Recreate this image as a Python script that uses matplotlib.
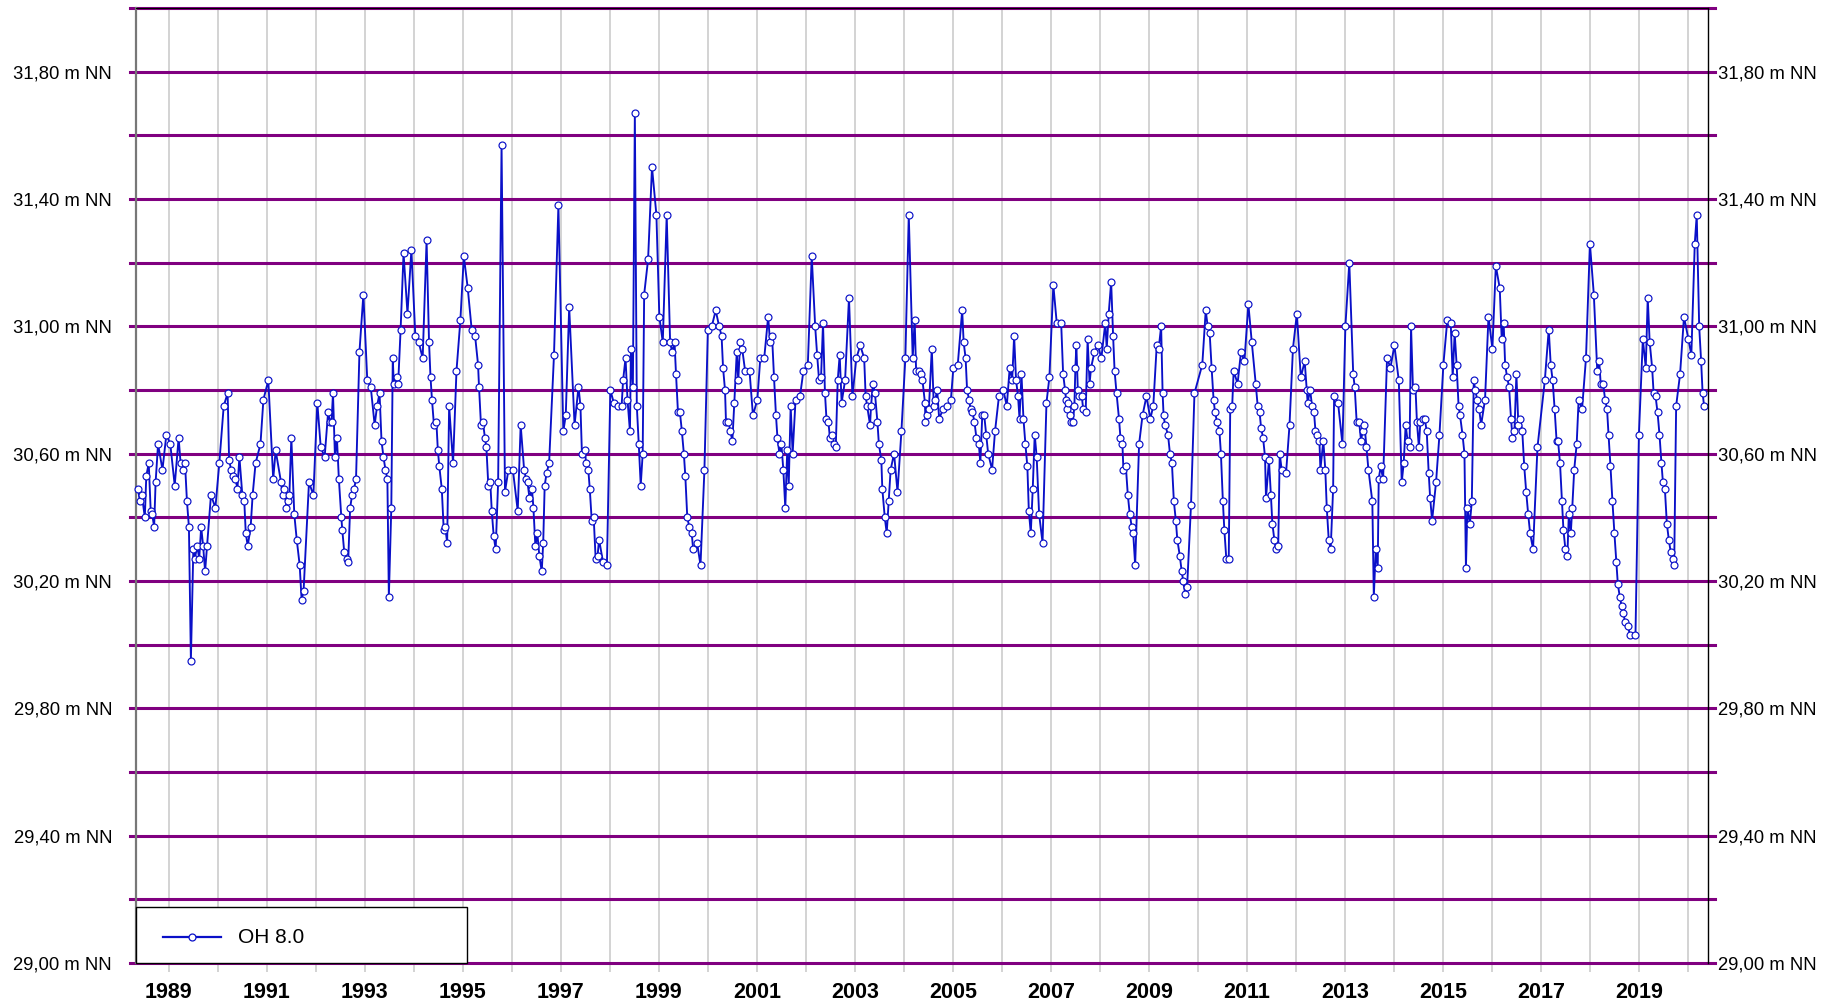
import numpy as np
import matplotlib
matplotlib.use("Agg")
import matplotlib.pyplot as plt
from matplotlib.patches import Rectangle
from matplotlib.lines import Line2D

plt.rcParams['font.family'] = ['Liberation Sans', 'DejaVu Sans']

# ---------------- data (decimal year, water level in m NN) ----------------
series_name = "OH 8.0"

dates = [
    1988.37, 1988.41, 1988.45, 1988.51, 1988.54, 1988.59, 1988.63, 1988.66, 1988.70, 1988.73, 1988.78, 1988.87, 1988.95,
    1989.03, 1989.12, 1989.20, 1989.24, 1989.29, 1989.33, 1989.37, 1989.41, 1989.45, 1989.50, 1989.53, 1989.58, 1989.62, 1989.66, 1989.70, 1989.74, 1989.78, 1989.86, 1989.95,
    1990.03, 1990.12, 1990.20, 1990.23, 1990.27, 1990.31, 1990.36, 1990.40, 1990.44, 1990.50, 1990.54, 1990.57, 1990.61, 1990.67, 1990.71, 1990.77, 1990.87, 1990.93,
    1991.03, 1991.13, 1991.18, 1991.29, 1991.32, 1991.36, 1991.40, 1991.44, 1991.46, 1991.50, 1991.56, 1991.61, 1991.67, 1991.71, 1991.75, 1991.86, 1991.95,
    1992.03, 1992.10, 1992.18, 1992.25, 1992.29, 1992.32, 1992.35, 1992.39, 1992.43, 1992.47, 1992.52, 1992.54, 1992.58, 1992.63, 1992.66, 1992.70, 1992.74, 1992.78, 1992.82, 1992.89, 1992.97,
    1993.05, 1993.12, 1993.20, 1993.25, 1993.30, 1993.34, 1993.38, 1993.42, 1993.46, 1993.49, 1993.54, 1993.57, 1993.59, 1993.65, 1993.68, 1993.73, 1993.79, 1993.87, 1993.95,
    1994.03, 1994.10, 1994.18, 1994.26, 1994.31, 1994.34, 1994.37, 1994.41, 1994.46, 1994.49, 1994.52, 1994.57, 1994.61, 1994.64, 1994.68, 1994.72, 1994.80, 1994.87, 1994.95,
    1995.02, 1995.10, 1995.18, 1995.25, 1995.31, 1995.33, 1995.37, 1995.41, 1995.45, 1995.48, 1995.52, 1995.56, 1995.59, 1995.63, 1995.67, 1995.72, 1995.79, 1995.86, 1995.93,
    1996.02, 1996.12, 1996.18, 1996.25, 1996.29, 1996.32, 1996.36, 1996.41, 1996.44, 1996.48, 1996.52, 1996.56, 1996.61, 1996.64, 1996.67, 1996.71, 1996.76, 1996.86, 1996.95,
    1997.05, 1997.10, 1997.17, 1997.28, 1997.36, 1997.40, 1997.43, 1997.50, 1997.51, 1997.56, 1997.59, 1997.63, 1997.67, 1997.71, 1997.75, 1997.78, 1997.86, 1997.94,
    1998.01, 1998.08, 1998.16, 1998.24, 1998.27, 1998.32, 1998.36, 1998.41, 1998.43, 1998.47, 1998.51, 1998.55, 1998.59, 1998.63, 1998.67, 1998.70, 1998.78, 1998.86, 1998.95,
    1999.01, 1999.08, 1999.16, 1999.23, 1999.27, 1999.32, 1999.35, 1999.39, 1999.43, 1999.47, 1999.51, 1999.54, 1999.58, 1999.62, 1999.67, 1999.70, 1999.78, 1999.85, 1999.93,
    2000.00, 2000.08, 2000.16, 2000.23, 2000.28, 2000.31, 2000.35, 2000.37, 2000.42, 2000.46, 2000.50, 2000.54, 2000.59, 2000.62, 2000.66, 2000.70, 2000.76, 2000.85, 2000.92,
    2001.01, 2001.07, 2001.15, 2001.23, 2001.27, 2001.31, 2001.35, 2001.39, 2001.42, 2001.46, 2001.50, 2001.54, 2001.58, 2001.62, 2001.65, 2001.69, 2001.73, 2001.79, 2001.88, 2001.95,
    2002.04, 2002.12, 2002.19, 2002.23, 2002.27, 2002.31, 2002.35, 2002.39, 2002.42, 2002.46, 2002.49, 2002.53, 2002.57, 2002.61, 2002.65, 2002.69, 2002.73, 2002.80, 2002.88, 2002.95,
    2003.03, 2003.11, 2003.19, 2003.22, 2003.25, 2003.31, 2003.33, 2003.37, 2003.41, 2003.46, 2003.49, 2003.54, 2003.56, 2003.61, 2003.65, 2003.69, 2003.73, 2003.80, 2003.87, 2003.95,
    2004.03, 2004.10, 2004.18, 2004.22, 2004.25, 2004.30, 2004.34, 2004.38, 2004.43, 2004.44, 2004.48, 2004.51, 2004.57, 2004.61, 2004.64, 2004.68, 2004.72, 2004.80, 2004.88, 2004.96,
    2005.01, 2005.10, 2005.19, 2005.22, 2005.26, 2005.29, 2005.33, 2005.36, 2005.40, 2005.44, 2005.48, 2005.53, 2005.56, 2005.60, 2005.64, 2005.68, 2005.72, 2005.80, 2005.86, 2005.94,
    2006.03, 2006.10, 2006.16, 2006.21, 2006.25, 2006.29, 2006.33, 2006.36, 2006.40, 2006.44, 2006.48, 2006.52, 2006.55, 2006.59, 2006.63, 2006.67, 2006.71, 2006.76, 2006.83, 2006.91, 2006.97,
    2007.05, 2007.12, 2007.21, 2007.25, 2007.29, 2007.31, 2007.33, 2007.35, 2007.40, 2007.42, 2007.45, 2007.48, 2007.50, 2007.52, 2007.55, 2007.58, 2007.63, 2007.66, 2007.71, 2007.75, 2007.79, 2007.82, 2007.89, 2007.96,
    2008.03, 2008.11, 2008.14, 2008.18, 2008.23, 2008.27, 2008.30, 2008.34, 2008.39, 2008.42, 2008.46, 2008.48, 2008.53, 2008.57, 2008.61, 2008.65, 2008.68, 2008.72, 2008.80, 2008.87, 2008.95,
    2009.03, 2009.09, 2009.16, 2009.20, 2009.25, 2009.28, 2009.30, 2009.33, 2009.39, 2009.43, 2009.47, 2009.51, 2009.55, 2009.58, 2009.63, 2009.67, 2009.70, 2009.74, 2009.78, 2009.86, 2009.93,
    2010.09, 2010.16, 2010.20, 2010.24, 2010.28, 2010.32, 2010.35, 2010.39, 2010.44, 2010.47, 2010.51, 2010.54, 2010.58, 2010.63, 2010.66, 2010.70, 2010.73, 2010.81, 2010.88, 2010.95,
    2011.03, 2011.10, 2011.18, 2011.22, 2011.26, 2011.29, 2011.33, 2011.37, 2011.39, 2011.45, 2011.49, 2011.52, 2011.56, 2011.59, 2011.64, 2011.67, 2011.71, 2011.80, 2011.87, 2011.94,
    2012.02, 2012.10, 2012.18, 2012.22, 2012.24, 2012.29, 2012.33, 2012.37, 2012.40, 2012.44, 2012.48, 2012.50, 2012.56, 2012.60, 2012.63, 2012.67, 2012.71, 2012.76, 2012.78, 2012.86, 2012.95,
    2013.01, 2013.09, 2013.17, 2013.20, 2013.24, 2013.29, 2013.33, 2013.36, 2013.40, 2013.44, 2013.48, 2013.56, 2013.59, 2013.63, 2013.67, 2013.69, 2013.73, 2013.78, 2013.86, 2013.93,
    2014.01, 2014.10, 2014.16, 2014.20, 2014.24, 2014.28, 2014.32, 2014.35, 2014.39, 2014.44, 2014.47, 2014.51, 2014.54, 2014.59, 2014.63, 2014.67, 2014.71, 2014.74, 2014.78, 2014.86, 2014.93,
    2015.01, 2015.09, 2015.16, 2015.20, 2015.24, 2015.28, 2015.32, 2015.35, 2015.40, 2015.44, 2015.47, 2015.50, 2015.55, 2015.59, 2015.63, 2015.66, 2015.70, 2015.74, 2015.78, 2015.86, 2015.93,
    2016.01, 2016.08, 2016.16, 2016.20, 2016.24, 2016.27, 2016.31, 2016.35, 2016.39, 2016.42, 2016.46, 2016.50, 2016.54, 2016.58, 2016.62, 2016.66, 2016.70, 2016.74, 2016.78, 2016.84, 2016.93,
    2017.08, 2017.16, 2017.20, 2017.24, 2017.28, 2017.32, 2017.35, 2017.39, 2017.43, 2017.46, 2017.50, 2017.54, 2017.57, 2017.61, 2017.64, 2017.68, 2017.73, 2017.77, 2017.84, 2017.92,
    2018.00, 2018.08, 2018.15, 2018.19, 2018.22, 2018.27, 2018.31, 2018.35, 2018.38, 2018.42, 2018.46, 2018.50, 2018.54, 2018.57, 2018.61, 2018.65, 2018.68, 2018.72, 2018.77, 2018.82, 2018.93,
    2019.00, 2019.08, 2019.14, 2019.18, 2019.22, 2019.27, 2019.30, 2019.34, 2019.38, 2019.42, 2019.46, 2019.49, 2019.53, 2019.57, 2019.61, 2019.65, 2019.69, 2019.72, 2019.76, 2019.84, 2019.92,
    2020.01, 2020.07, 2020.14, 2020.18, 2020.23, 2020.27, 2020.30, 2020.33,
]

levels = [
    30.49, 30.45, 30.47, 30.40, 30.53, 30.57, 30.42, 30.41, 30.37, 30.51, 30.63, 30.55, 30.66,
    30.63, 30.50, 30.65, 30.57, 30.55, 30.57, 30.45, 30.37, 29.95, 30.30, 30.27, 30.31, 30.27, 30.37, 30.31, 30.23, 30.31, 30.47, 30.43,
    30.57, 30.75, 30.79, 30.58, 30.55, 30.53, 30.52, 30.49, 30.59, 30.47, 30.45, 30.35, 30.31, 30.37, 30.47, 30.57, 30.63, 30.77,
    30.83, 30.52, 30.61, 30.51, 30.47, 30.49, 30.43, 30.45, 30.47, 30.65, 30.41, 30.33, 30.25, 30.14, 30.17, 30.51, 30.47,
    30.76, 30.62, 30.59, 30.73, 30.70, 30.70, 30.79, 30.59, 30.65, 30.52, 30.40, 30.36, 30.29, 30.27, 30.26, 30.43, 30.47, 30.49, 30.52, 30.92, 31.10,
    30.83, 30.81, 30.69, 30.75, 30.79, 30.64, 30.59, 30.55, 30.52, 30.15, 30.43, 30.90, 30.82, 30.84, 30.82, 30.99, 31.23, 31.04, 31.24,
    30.97, 30.95, 30.90, 31.27, 30.95, 30.84, 30.77, 30.69, 30.70, 30.61, 30.56, 30.49, 30.36, 30.37, 30.32, 30.75, 30.57, 30.86, 31.02,
    31.22, 31.12, 30.99, 30.97, 30.88, 30.81, 30.69, 30.70, 30.65, 30.62, 30.50, 30.51, 30.42, 30.34, 30.30, 30.51, 31.57, 30.48, 30.55,
    30.55, 30.42, 30.69, 30.55, 30.52, 30.51, 30.46, 30.49, 30.43, 30.31, 30.35, 30.28, 30.23, 30.32, 30.50, 30.54, 30.57, 30.91, 31.38,
    30.67, 30.72, 31.06, 30.69, 30.81, 30.75, 30.60, 30.61, 30.57, 30.55, 30.49, 30.39, 30.40, 30.27, 30.28, 30.33, 30.26, 30.25,
    30.80, 30.76, 30.75, 30.75, 30.83, 30.90, 30.77, 30.67, 30.93, 30.81, 31.67, 30.75, 30.63, 30.50, 30.60, 31.10, 31.21, 31.50, 31.35,
    31.03, 30.95, 31.35, 30.95, 30.92, 30.95, 30.85, 30.73, 30.73, 30.67, 30.60, 30.53, 30.40, 30.37, 30.35, 30.30, 30.32, 30.25, 30.55,
    30.99, 31.00, 31.05, 31.00, 30.97, 30.87, 30.80, 30.70, 30.70, 30.67, 30.64, 30.76, 30.92, 30.83, 30.95, 30.93, 30.86, 30.86, 30.72,
    30.77, 30.90, 30.90, 31.03, 30.95, 30.97, 30.84, 30.72, 30.65, 30.60, 30.63, 30.55, 30.43, 30.61, 30.50, 30.75, 30.60, 30.77, 30.78, 30.86,
    30.88, 31.22, 31.00, 30.91, 30.83, 30.84, 31.01, 30.79, 30.71, 30.70, 30.65, 30.66, 30.63, 30.62, 30.83, 30.91, 30.76, 30.83, 31.09, 30.78,
    30.90, 30.94, 30.90, 30.78, 30.75, 30.69, 30.75, 30.82, 30.79, 30.70, 30.63, 30.58, 30.49, 30.40, 30.35, 30.45, 30.55, 30.60, 30.48, 30.67,
    30.90, 31.35, 30.90, 31.02, 30.86, 30.86, 30.85, 30.83, 30.76, 30.70, 30.72, 30.74, 30.93, 30.75, 30.77, 30.80, 30.71, 30.74, 30.75, 30.77,
    30.87, 30.88, 31.05, 30.95, 30.90, 30.80, 30.77, 30.74, 30.73, 30.70, 30.65, 30.63, 30.57, 30.72, 30.72, 30.66, 30.60, 30.55, 30.67, 30.78,
    30.80, 30.75, 30.87, 30.83, 30.97, 30.83, 30.78, 30.71, 30.85, 30.71, 30.63, 30.56, 30.42, 30.35, 30.49, 30.66, 30.59, 30.41, 30.32, 30.76, 30.84,
    31.13, 31.01, 31.01, 30.85, 30.80, 30.77, 30.74, 30.76, 30.72, 30.70, 30.70, 30.75, 30.87, 30.94, 30.80, 30.78, 30.78, 30.74, 30.73, 30.96, 30.82, 30.87, 30.92, 30.94,
    30.90, 31.01, 30.93, 31.04, 31.14, 30.97, 30.86, 30.79, 30.71, 30.65, 30.63, 30.55, 30.56, 30.47, 30.41, 30.37, 30.35, 30.25, 30.63, 30.72, 30.78,
    30.71, 30.75, 30.94, 30.93, 31.00, 30.79, 30.72, 30.69, 30.66, 30.60, 30.57, 30.45, 30.39, 30.33, 30.28, 30.23, 30.20, 30.16, 30.18, 30.44, 30.79,
    30.88, 31.05, 31.00, 30.98, 30.87, 30.77, 30.73, 30.70, 30.67, 30.60, 30.45, 30.36, 30.27, 30.27, 30.74, 30.75, 30.86, 30.82, 30.92, 30.89,
    31.07, 30.95, 30.82, 30.75, 30.73, 30.68, 30.65, 30.59, 30.46, 30.58, 30.47, 30.38, 30.33, 30.30, 30.31, 30.60, 30.55, 30.54, 30.69, 30.93,
    31.04, 30.84, 30.89, 30.80, 30.76, 30.80, 30.75, 30.73, 30.67, 30.66, 30.64, 30.55, 30.64, 30.55, 30.43, 30.33, 30.30, 30.49, 30.78, 30.76, 30.63,
    31.00, 31.20, 30.85, 30.81, 30.70, 30.70, 30.64, 30.67, 30.69, 30.62, 30.55, 30.45, 30.15, 30.30, 30.24, 30.52, 30.56, 30.52, 30.90, 30.87,
    30.94, 30.83, 30.51, 30.57, 30.69, 30.64, 30.62, 31.00, 30.80, 30.81, 30.70, 30.62, 30.70, 30.71, 30.71, 30.67, 30.54, 30.46, 30.39, 30.51, 30.66,
    30.88, 31.02, 31.01, 30.84, 30.98, 30.88, 30.75, 30.72, 30.66, 30.60, 30.24, 30.43, 30.38, 30.45, 30.83, 30.80, 30.77, 30.74, 30.69, 30.77, 31.03,
    30.93, 31.19, 31.12, 30.96, 31.01, 30.88, 30.84, 30.81, 30.71, 30.65, 30.67, 30.85, 30.69, 30.71, 30.67, 30.56, 30.48, 30.41, 30.35, 30.30, 30.62,
    30.83, 30.99, 30.88, 30.83, 30.74, 30.64, 30.64, 30.57, 30.45, 30.36, 30.30, 30.28, 30.41, 30.35, 30.43, 30.55, 30.63, 30.77, 30.74, 30.90,
    31.26, 31.10, 30.86, 30.89, 30.82, 30.82, 30.77, 30.74, 30.66, 30.56, 30.45, 30.35, 30.26, 30.19, 30.15, 30.12, 30.10, 30.07, 30.06, 30.03, 30.03,
    30.66, 30.96, 30.87, 31.09, 30.95, 30.87, 30.79, 30.78, 30.73, 30.66, 30.57, 30.51, 30.49, 30.38, 30.33, 30.29, 30.27, 30.25, 30.75, 30.85, 31.03,
    30.96, 30.91, 31.26, 31.35, 31.00, 30.89, 30.79, 30.75,
]

assert len(dates) == len(levels), (len(dates), len(levels))

# axis contents
grid_levels = [29.0, 29.2, 29.4, 29.6, 29.8, 30.0, 30.2, 30.4, 30.6, 30.8,
               31.0, 31.2, 31.4, 31.6, 31.8, 32.0]
labelled_levels = [29.0, 29.4, 29.8, 30.2, 30.6, 31.0, 31.4, 31.8]
y_tick_labels = ["29,00 m NN", "29,40 m NN", "29,80 m NN", "30,20 m NN",
                 "30,60 m NN", "31,00 m NN", "31,40 m NN", "31,80 m NN"]
year_ticks = list(range(1989, 2021))
x_tick_labels = [str(y) if y % 2 == 1 else "" for y in year_ticks]

# ---------------- figure ----------------
W, H = 1836, 1005
fig = plt.figure(figsize=(W / 100, H / 100), dpi=100)
L, R, T, B = 136, 1708, 8, 963
ax = fig.add_axes([L / W, 1 - B / H, (R - L) / W, (B - T) / H])
ax.set_xlim(1988.33, 2020.41)
ax.set_ylim(29.0, 32.0)

blue = '#0A10C8'
purple = '#800080'
gridgray = '#D3D3D3'

# vertical year grid
ax.set_xticks(year_ticks)
ax.set_xticklabels(x_tick_labels, fontsize=15.5, fontweight='bold')
ax.tick_params(axis='x', length=6.5, width=1.4, color=gridgray, pad=7)
ax.grid(axis='x', color=gridgray, linewidth=1.4, zorder=0.5)
ax.set_axisbelow(True)

# purple horizontal level lines (extend a little beyond the frame like ticks)
for lv in grid_levels:
    ax.axhline(lv, xmin=-6 / (R - L), xmax=1 + 7 / (R - L), color=purple,
               linewidth=2.2, clip_on=False, zorder=1.5)

# y labels left
ax.set_yticks(labelled_levels)
ax.set_yticklabels(y_tick_labels, fontsize=13.3)
ax.tick_params(axis='y', length=0, pad=24 * 0.72, left=True, right=False)

# y labels right via twin axis
ax2 = ax.twinx()
ax2.set_ylim(ax.get_ylim())
ax2.set_yticks(labelled_levels)
ax2.set_yticklabels(y_tick_labels, fontsize=13.3)
ax2.tick_params(axis='y', length=0, pad=10 * 0.72)
for s in ['left', 'top', 'bottom']:
    ax2.spines[s].set_visible(False)
ax2.spines['right'].set_color('black')
ax2.spines['right'].set_linewidth(1.0)

ax.spines['left'].set_color('#777777')
ax.spines['left'].set_linewidth(1.6)
ax.spines['right'].set_visible(False)
ax.spines['bottom'].set_visible(False)
ax.spines['top'].set_color('black')
ax.spines['top'].set_linewidth(0.8)

# data series
ax.plot(dates, levels, color=blue, linewidth=1.35, marker='o', markersize=5.0,
        markerfacecolor='white', markeredgecolor=blue, markeredgewidth=0.85,
        zorder=3, clip_on=False)

# legend box (bottom left, attached to the frame)
box_w = (467 - L) / (R - L)
box_h = (B - 907) / (B - T)
ax.add_patch(Rectangle((0, 0), box_w, box_h, transform=ax.transAxes,
                       facecolor='white', edgecolor='black', linewidth=1.0,
                       zorder=5, clip_on=False))
ly = (B - 937) / (B - T)
ax.add_line(Line2D([(163 - L) / (R - L), (221 - L) / (R - L)], [ly, ly],
                   transform=ax.transAxes, color=blue, linewidth=1.6, zorder=6))
ax.add_line(Line2D([(192 - L) / (R - L)], [ly], transform=ax.transAxes,
                   marker='o', markersize=5, markerfacecolor='white',
                   markeredgecolor=blue, markeredgewidth=0.9, zorder=7))
ax.text((238 - L) / (R - L), ly, series_name, transform=ax.transAxes,
        fontsize=15, va='center', ha='left', zorder=7)

fig.savefig('out.png', dpi=100)
